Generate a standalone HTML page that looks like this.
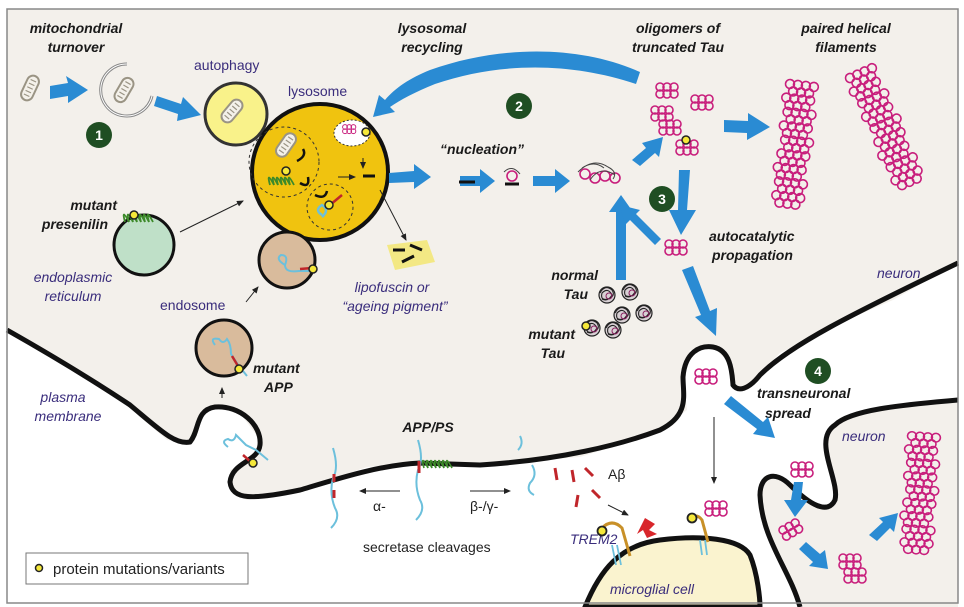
<!DOCTYPE html>
<html><head><meta charset="utf-8"><style>
body{margin:0;background:#fff}
svg{display:block}
text{font-family:"Liberation Sans",sans-serif}
.b{font-weight:bold;font-style:italic;font-size:14px;fill:#1a1a1a}
.p{font-style:italic;font-size:14px;fill:#3a2d7c}
.pn{font-size:14px;fill:#3a2d7c}
.n{font-size:14px;fill:#222}
.ar{fill:#2a8bd3}
.tau{fill:none;stroke:#c81e7c;stroke-width:1.6}
</style></head><body>
<svg width="964" height="607" viewBox="0 0 964 607">
<defs>
<marker id="m" markerWidth="8" markerHeight="8" refX="6" refY="3" orient="auto"><path d="M0,0 L7,3 L0,6 z" fill="#222"/></marker>
<g id="o"><circle cx="0" cy="0" r="4"/><circle cx="7" cy="0" r="4"/><circle cx="14" cy="0" r="4"/><circle cx="0" cy="7" r="4"/><circle cx="7" cy="7" r="4"/><circle cx="14" cy="7" r="4"/></g>
<g id="row"><circle cx="0" cy="0" r="4.5"/><circle cx="8" cy="0" r="4.5"/><circle cx="16" cy="0" r="4.5"/><circle cx="24" cy="0" r="4.5"/><circle cx="4" cy="7" r="4.5"/><circle cx="12" cy="7" r="4.5"/><circle cx="20" cy="7" r="4.5"/></g>
<g id="fil"><use href="#row" y="0"/><use href="#row" y="14" x="-2"/><use href="#row" y="28" x="1"/><use href="#row" y="42" x="-1"/><use href="#row" y="56" x="2"/><use href="#row" y="70"/><use href="#row" y="84" x="-2"/><use href="#row" y="98" x="1"/><use href="#row" y="112"/></g>
<g id="mito"><rect x="-6" y="-13" width="12" height="26" rx="6" fill="#f4f1ea" stroke="#9a9484" stroke-width="2"/><path d="M-3,-8 h6 M-3,-4 h6 M-3,0 h6 M-3,4 h6 M-3,8 h6" stroke="#9a9484" stroke-width="1.2"/></g>
<g id="tg"><circle r="8" fill="#d8d0d4" stroke="#222" stroke-width="1.2"/><path d="M-7,-2 q5,-9 12,-3 q4,6 -4,9 q-8,2 -6,-6 q6,-6 10,2 M-5,4 q6,3 10,-4" fill="none" stroke="#222" stroke-width="1.1"/><circle cx="2" cy="1" r="3" fill="none" stroke="#8a2060" stroke-width="1"/></g>
</defs>
<rect x="0" y="0" width="964" height="607" fill="#fff"/>
<path d="M7,9 H958 V263 L893,300 L847,320 L780,353 L747,387 L733,387 L730,363 L713,347 L690,350 L683,377 L687,410 L657,433 L580,457 L480,465 L417,463 L367,467 L300,490 L247,500 L230,490 L230,470 L253,460 L260,440 L240,413 L217,407 L200,413 L193,443 L167,440 L117,397 L7,330 Z" fill="#f3f0eb"/>
<path d="M7,330 C60,360 100,385 130,405 C160,430 175,445 190,442 C200,430 195,410 215,407 C240,405 262,425 260,445 C258,462 232,462 230,482 C232,500 252,500 300,490 C340,478 380,465 420,463 L480,465 C560,460 620,445 660,430 C690,415 683,395 683,377 C685,352 700,345 713,347 C730,350 732,370 733,385 C738,392 748,390 760,375 C790,345 850,315 958,263" fill="none" stroke="#111" stroke-width="5"/>
<path d="M958,400 C900,405 850,410 835,425 C812,440 840,480 835,500 C828,515 810,505 790,485 C775,470 760,475 760,495 C762,540 790,570 800,607 H958 Z" fill="#f3f0eb"/>
<path d="M958,400 C900,405 850,410 835,425 C812,440 840,480 835,500 C828,515 810,505 790,485 C775,470 760,475 760,495 C762,540 790,570 800,607" fill="none" stroke="#111" stroke-width="5"/>
<path d="M585,607 C600,570 620,545 660,540 C700,535 740,538 750,555 C758,575 760,600 760,607 Z" fill="#faf3cf" stroke="#111" stroke-width="5"/>
<rect x="7" y="9" width="951" height="594" fill="none" stroke="#888" stroke-width="1.5"/>

<text class="b" x="76" y="33" text-anchor="middle">mitochondrial</text>
<text class="b" x="76" y="52" text-anchor="middle">turnover</text>
<text class="b" x="432" y="33" text-anchor="middle">lysosomal</text>
<text class="b" x="432" y="52" text-anchor="middle">recycling</text>
<text class="b" x="678" y="33" text-anchor="middle">oligomers of</text>
<text class="b" x="678" y="52" text-anchor="middle">truncated Tau</text>
<text class="b" x="846" y="33" text-anchor="middle">paired helical</text>
<text class="b" x="846" y="52" text-anchor="middle">filaments</text>
<text class="pn" x="194" y="70">autophagy</text>
<text class="pn" x="288" y="96">lysosome</text>
<text class="b" x="440" y="154">“nucleation”</text>
<text class="b" x="117" y="210" text-anchor="end">mutant</text>
<text class="b" x="108" y="229" text-anchor="end">presenilin</text>
<text class="p" x="73" y="282" text-anchor="middle">endoplasmic</text>
<text class="p" x="73" y="301" text-anchor="middle">reticulum</text>
<text class="p" x="392" y="292" text-anchor="middle">lipofuscin or</text>
<text class="p" x="395" y="311" text-anchor="middle">“ageing pigment”</text>
<text class="b" x="709" y="241">autocatalytic</text>
<text class="b" x="712" y="260">propagation</text>
<text class="p" x="877" y="278">neuron</text>
<text class="b" x="598" y="280" text-anchor="end">normal</text>
<text class="b" x="588" y="299" text-anchor="end">Tau</text>
<text class="b" x="575" y="339" text-anchor="end">mutant</text>
<text class="b" x="565" y="358" text-anchor="end">Tau</text>
<text class="pn" x="160" y="310">endosome</text>
<text class="b" x="253" y="373">mutant</text>
<text class="b" x="264" y="392">APP</text>
<text class="p" x="63" y="402" text-anchor="middle">plasma</text>
<text class="p" x="68" y="421" text-anchor="middle">membrane</text>
<text class="b" x="428" y="432" text-anchor="middle">APP/PS</text>
<text class="b" x="757" y="398">transneuronal</text>
<text class="b" x="765" y="418">spread</text>
<text class="p" x="842" y="441">neuron</text>
<text class="n" x="608" y="479">Aβ</text>
<text class="n" x="373" y="511">α-</text>
<text class="n" x="470" y="511">β-/γ-</text>
<text class="n" x="363" y="552">secretase cleavages</text>
<text class="p" x="570" y="544">TREM2</text>
<text class="p" x="610" y="594">microglial cell</text>
<rect x="26" y="553" width="222" height="31" fill="#fff" stroke="#777"/>
<circle cx="39" cy="568" r="3.5" fill="#f5e83a" stroke="#222" stroke-width="1.5"/>
<text class="n" x="53" y="574" style="font-size:15px">protein mutations/variants</text>

<g font-weight="bold" font-size="14" fill="#fff" text-anchor="middle">
<circle cx="99" cy="135" r="13" fill="#1f4e23"/><text x="99" y="140">1</text>
<circle cx="519" cy="106" r="13" fill="#1f4e23"/><text x="519" y="111">2</text>
<circle cx="662" cy="199" r="13" fill="#1f4e23"/><text x="662" y="204">3</text>
<circle cx="818" cy="371" r="13" fill="#1f4e23"/><text x="818" y="376">4</text>
</g>

<use href="#mito" transform="translate(30,88) rotate(25)"/>
<path d="M127,64 A26,26 0 1 0 152,96" fill="none" stroke="#888" stroke-width="3"/>
<path d="M127,64 A26,26 0 1 0 152,96" fill="none" stroke="#fff" stroke-width="1"/>
<use href="#mito" transform="translate(124,90) rotate(30)"/>
<circle cx="236" cy="114" r="31" fill="#f9f28a" stroke="#333" stroke-width="3"/>
<use href="#mito" transform="translate(232,111) rotate(40)"/>
<circle cx="320" cy="172" r="68" fill="#f0c30f" stroke="#111" stroke-width="4"/>
<circle cx="284" cy="162" r="35" fill="none" stroke="#333" stroke-dasharray="3,3"/>
<circle cx="330" cy="207" r="23" fill="none" stroke="#333" stroke-dasharray="3,3"/>
<ellipse cx="352" cy="133" rx="18" ry="13" fill="#fff" stroke="#333" stroke-dasharray="2,2"/>
<use href="#o" class="tau" transform="translate(345,127) scale(0.6)"/>
<circle cx="366" cy="132" r="4" fill="#f5e83a" stroke="#222" stroke-width="1.5"/>
<use href="#mito" transform="translate(286,145) rotate(35)"/>
<path d="M270,185 q-4,-15 4,0 q-4,-15 4,0 q-4,-15 4,0 q-4,-15 4,0 q-4,-15 4,0 q-4,-15 4,0" fill="none" stroke="#3d8a2a" stroke-width="1.8"/>
<circle cx="286" cy="171" r="4" fill="#f5e83a" stroke="#222" stroke-width="1.5"/>
<path d="M297,161 q10,-5 6,-12 M300,183 q10,6 8,-6 M315,195 q10,5 12,-4" fill="none" stroke="#111" stroke-width="2.5"/>
<path d="M322,215 q-8,-5 0,-10 q8,5 0,12" fill="none" stroke="#6cc0dc" stroke-width="2.5"/>
<path d="M330,205 l12,-10" stroke="#c0262b" stroke-width="2.5"/>
<circle cx="329" cy="205" r="4" fill="#f5e83a" stroke="#222" stroke-width="1.5"/>
<line x1="363" y1="176" x2="375" y2="176" stroke="#111" stroke-width="3"/>
<line x1="338" y1="177" x2="355" y2="177" stroke="#222" marker-end="url(#m)"/>
<line x1="363" y1="158" x2="363" y2="168" stroke="#222" marker-end="url(#m)"/>
<line x1="380" y1="190" x2="406" y2="240" stroke="#222" marker-end="url(#m)"/>
<line x1="180" y1="232" x2="243" y2="201" stroke="#222" marker-end="url(#m)"/>
<path d="M387,245 l40,-5 l8,22 l-40,8 z" fill="#f3e66a" opacity="0.8"/>
<path d="M393,250 h12 M410,245 l12,5 M402,262 l12,-6" stroke="#111" stroke-width="3"/>
<circle cx="144" cy="245" r="30" fill="#bfe0c8" stroke="#111" stroke-width="3"/>
<path d="M125,222 q-4,-15 4,0 q-4,-15 4,0 q-4,-15 4,0 q-4,-15 4,0 q-4,-15 4,0 q-4,-15 4,0 q-4,-15 4,0" fill="none" stroke="#3d8a2a" stroke-width="1.8"/>
<circle cx="134" cy="215" r="4" fill="#f5e83a" stroke="#222" stroke-width="1.5"/>
<circle cx="287" cy="260" r="28" fill="#d9bb9c" stroke="#111" stroke-width="3"/>
<path d="M285,265 q-10,-6 -4,-10 q8,0 4,10 q0,8 14,6 l10,0" fill="none" stroke="#6cc0dc" stroke-width="2"/>
<line x1="300" y1="269" x2="312" y2="268" stroke="#c0262b" stroke-width="2.5"/>
<circle cx="313" cy="269" r="4" fill="#f5e83a" stroke="#222" stroke-width="1.5"/>
<line x1="246" y1="302" x2="258" y2="287" stroke="#222" marker-end="url(#m)"/>
<circle cx="224" cy="348" r="28" fill="#d9bb9c" stroke="#111" stroke-width="3"/>
<path d="M215,345 q-6,-8 4,-6 q4,6 8,0 q4,5 4,15 l8,12 l8,10" fill="none" stroke="#6cc0dc" stroke-width="2"/>
<line x1="232" y1="356" x2="238" y2="366" stroke="#c0262b" stroke-width="2.5"/>
<circle cx="239" cy="369" r="4" fill="#f5e83a" stroke="#222" stroke-width="1.5"/>
<line x1="222" y1="398" x2="222" y2="388" stroke="#222" marker-end="url(#m)"/>
<path d="M228,447 q-8,-6 0,-8 q6,4 8,-4 q6,6 10,10 l10,5 l12,10" fill="none" stroke="#6cc0dc" stroke-width="2"/>
<line x1="243" y1="455" x2="251" y2="462" stroke="#c0262b" stroke-width="2.5"/>
<circle cx="253" cy="463" r="4" fill="#f5e83a" stroke="#222" stroke-width="1.5"/>
<path d="M333,448 q6,20 0,30 q-4,15 2,30 q6,10 -4,20" fill="none" stroke="#6cc0dc" stroke-width="2"/>
<path d="M334,474 v8 M334,490 v8" stroke="#c0262b" stroke-width="3"/>
<path d="M418,440 q6,20 0,30 q-4,15 2,30 q6,10 -4,20" fill="none" stroke="#6cc0dc" stroke-width="2"/>
<path d="M419,461 v12" stroke="#c0262b" stroke-width="3"/>
<path d="M424,468 q-4,-15 4,0 q-4,-15 4,0 q-4,-15 4,0 q-4,-15 4,0 q-4,-15 4,0 q-4,-15 4,0 q-4,-15 4,0" fill="none" stroke="#3d8a2a" stroke-width="1.6"/>
<line x1="400" y1="491" x2="360" y2="491" stroke="#222" marker-end="url(#m)"/>
<line x1="470" y1="491" x2="510" y2="491" stroke="#222" marker-end="url(#m)"/>
<path d="M520,436 q4,8 -2,14 M532,465 q6,10 -2,18 q-4,8 4,12" fill="none" stroke="#6cc0dc" stroke-width="2"/>
<path d="M555,468 l2,12 M572,470 l2,12 M585,468 l8,8 M578,495 l-2,12 M592,490 l8,8" stroke="#c0262b" stroke-width="3"/>
<line x1="608" y1="505" x2="628" y2="515" stroke="#222" marker-end="url(#m)"/>
<path d="M645,518 l10,6 l-6,6 l8,4 l-10,4 l-4,-8 l-6,4 z" fill="#d8262b"/>
<path d="M602,528 q10,-10 20,0 l8,28 M690,520 q6,-8 12,0 l6,22" fill="none" stroke="#c89028" stroke-width="3"/>
<circle cx="602" cy="531" r="4.5" fill="#f5e83a" stroke="#222" stroke-width="1.8"/>
<circle cx="692" cy="518" r="4.5" fill="#f5e83a" stroke="#222" stroke-width="1.8"/>
<path d="M612,545 l4,20 M617,545 l4,20 M700,540 l2,15 M705,540 l2,15" stroke="#6cc0dc" stroke-width="1.8"/>
<line x1="714" y1="417" x2="714" y2="483" stroke="#222" marker-end="url(#m)"/>

<g class="ar">
<path d="M50,86 l18,-3 l-2,-7 l22,14 l-20,13 l0,-7 l-18,3 z"/>
<path d="M157,96 l24,8 l2,-7 l18,18 l-24,6 l1,-7 l-24,-8 z"/>
<path d="M389,173 l25,-2 l0,-7 l17,13 l-17,12 l0,-7 l-25,1 z"/>
<path d="M460,176 l20,0 l0,-7 l15,12 l-15,12 l0,-7 l-20,0 z"/>
<path d="M533,176 l22,0 l0,-7 l15,12 l-15,12 l0,-7 l-22,0 z"/>
<path d="M632,160 l14,-12 l-4,-5 l21,-6 l-4,20 l-4,-4 l-15,13 z"/>
<path d="M724,120 l24,1 l0,-8 l22,14 l-23,13 l0,-7 l-23,-1 z"/>
<path d="M679,170 h11 l-3,40 l9,0 l-15,25 l-12,-25 l9,0 z"/>
<path d="M616,280 l0,-68 l-7,0 l12,-17 l12,17 l-7,0 l0,68 z"/>
<path d="M655,245 l-25,-25 l-5,5 l-5,-20 l20,5 l-4,4 l25,25 z"/>
<path d="M682,270 l11,-4 l17,45 l7,-3 l-1,28 l-21,-19 l6,-2 z"/>
<path d="M724,404 l7,-8 l32,26 l5,-5 l7,21 l-22,-4 l4,-5 z"/>
<path d="M794,482 l9,0 l-2,18 l7,0 l-13,17 l-11,-17 l7,0 z"/>
<path d="M799,549 l7,-7 l14,12 l5,-4 l3,19 l-19,-3 l4,-4 z"/>
<path d="M869,535 l14,-13 l-4,-4 l19,-5 l-4,19 l-4,-4 l-13,13 z"/>
<path d="M640,72 C580,45 500,45 430,70 C410,78 395,88 385,100 l-6,-5 l-6,22 l22,-5 l-5,-5 C400,100 415,92 435,84 C500,62 570,62 636,84 z"/>
</g>

<line x1="459" y1="182" x2="475" y2="182" stroke="#111" stroke-width="3"/>
<circle cx="512" cy="176" r="5" class="tau"/><path d="M504,172 q8,-8 16,2" fill="none" stroke="#444"/>
<line x1="505" y1="184" x2="519" y2="184" stroke="#111" stroke-width="3"/>
<g class="tau"><circle cx="585" cy="174" r="5"/><circle cx="595" cy="178" r="5"/><circle cx="605" cy="176" r="5"/><circle cx="615" cy="178" r="5"/></g>
<path d="M578,172 q15,-15 30,-5 q10,5 5,12 M590,180 q10,-15 25,-5 M582,168 q12,-8 22,0" fill="none" stroke="#444"/>

<use href="#o" class="tau" transform="translate(660,87)"/>
<use href="#o" class="tau" transform="translate(695,99)"/>
<use href="#o" class="tau" transform="translate(655,110)"/>
<use href="#o" class="tau" transform="translate(663,124)"/>
<use href="#o" class="tau" transform="translate(680,144)"/>
<circle cx="686" cy="140" r="4" fill="#f5e83a" stroke="#222" stroke-width="1.5"/>
<use href="#o" class="tau" transform="translate(669,244)"/>
<use href="#o" class="tau" transform="translate(699,373)"/>
<use href="#o" class="tau" transform="translate(795,466)"/>
<use href="#o" class="tau" transform="translate(709,505)"/>
<use href="#o" class="tau" transform="translate(783,530) rotate(-30)"/>
<use href="#o" class="tau" transform="translate(843,558)"/>
<use href="#o" class="tau" transform="translate(848,572)"/>
<g class="tau">
<use href="#fil" transform="translate(790,84) rotate(7)"/>
<use href="#fil" transform="translate(850,78) rotate(-24)"/>
<use href="#fil" transform="translate(912,436) rotate(4) scale(1,0.95)"/>
</g>
<use href="#tg" x="607" y="295"/><use href="#tg" x="630" y="292"/>
<use href="#tg" x="622" y="315"/><use href="#tg" x="644" y="313"/>
<use href="#tg" x="592" y="328"/><use href="#tg" x="613" y="330"/>
<circle cx="586" cy="326" r="4" fill="#f5e83a" stroke="#222" stroke-width="1.5"/>
</svg>
</body></html>
